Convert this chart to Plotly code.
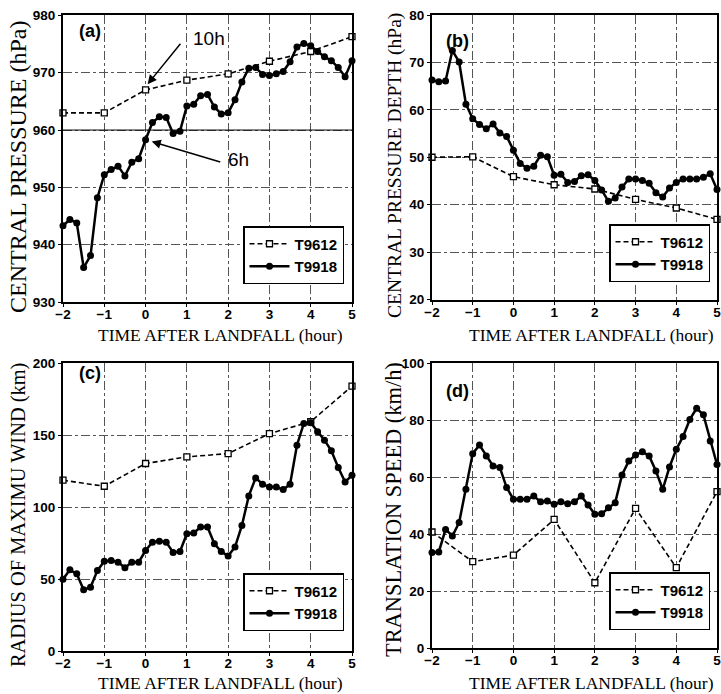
import plotly.graph_objects as go

# ---------------- data ----------------
minutes = list(range(-120, 301, 10))          # 10-minute samples of T9918
t_9918 = [m / 60 for m in minutes]
t_9612 = [-2, -1, 0, 1, 2, 3, 4, 5]            # hourly samples of T9612

a_9918 = [943.3, 944.4, 943.8, 936.0, 938.1, 948.2, 952.2, 953.1, 953.7, 952.0, 954.4,
          955.0, 958.3, 961.3, 962.3, 962.2, 959.4, 959.8, 964.2, 964.5, 966.0, 966.2,
          964.0, 962.8, 963.0, 965.3, 968.4, 970.8, 970.9, 969.7, 969.5, 969.8, 970.2,
          971.9, 974.5, 975.1, 974.7, 973.7, 972.8, 972.1, 970.9, 969.3, 972.1]
a_9612 = [963.0, 963.0, 967.0, 968.7, 969.8, 972.0, 973.7, 976.3]

b_9918 = [66.3, 65.9, 66.1, 72.5, 70.1, 61.2, 58.1, 56.9, 56.0, 57.0, 55.1, 54.4, 51.5,
          48.7, 47.7, 48.1, 50.4, 50.1, 46.2, 46.4, 44.7, 44.9, 46.1, 46.3, 45.1, 43.1,
          40.7, 41.4, 43.7, 45.4, 45.4, 45.1, 44.5, 42.5, 41.6, 43.5, 44.7, 45.4, 45.4,
          45.4, 45.8, 46.5, 43.2]
b_9612 = [50.0, 50.1, 45.9, 44.2, 43.3, 41.1, 39.3, 36.9]

c_9918 = [49.9, 56.4, 53.6, 42.5, 44.3, 55.9, 62.4, 62.9, 61.7, 57.8, 61.7, 61.7, 69.8,
          75.6, 76.3, 75.6, 68.4, 69.1, 81.4, 81.9, 86.1, 86.1, 74.5, 69.1, 65.9, 72.2,
          87.2, 107.7, 120.2, 115.8, 113.9, 113.9, 112.1, 115.8, 142.9, 158.0, 158.5,
          152.2, 146.4, 139.0, 127.4, 117.4, 122.0]
c_9612 = [118.6, 114.4, 130.2, 134.8, 137.1, 151.0, 159.2, 184.0]

d_9918 = [33.5, 33.7, 41.6, 39.3, 44.0, 55.7, 68.2, 71.2, 67.4, 63.9, 63.3, 56.3, 52.2,
          52.2, 52.2, 53.3, 51.3, 51.6, 50.4, 51.3, 50.6, 51.3, 53.3, 50.2, 46.9, 47.1,
          49.2, 51.0, 60.7, 65.6, 67.7, 68.9, 67.4, 62.1, 55.7, 63.5, 69.7, 74.2, 80.2,
          84.1, 81.8, 72.6, 64.4]
d_9612 = [40.7, 30.3, 32.6, 45.1, 22.9, 49.0, 28.2, 54.9]

panel_labels = ["(a)", "(b)", "(c)", "(d)"]
y_titles = ["CENTRAL PRESSURE (hPa)", "CENTRAL PRESSURE DEPTH (hPa)",
            "RADIUS OF MAXIMU WIND (km)", "TRANSLATION SPEED (km/h)"]
x_title = "TIME AFTER LANDFALL (hour)"
x_ticks = [-2, -1, 0, 1, 2, 3, 4, 5]
y_ranges = [(930, 980), (20, 80), (0, 200), (0, 100)]
y_dticks = [10, 10, 50, 20]
series_names = ["T9612", "T9918"]
ref_line_a = 960

# ---------------- layout helpers ----------------
W, H = 721, 694
def px(x): return x / W
def py(y): return 1 - y / H

# plot-area pixel boxes (left, right, top, bottom)
boxes = [(63, 352, 15.4, 302), (432, 717, 15, 299.5),
         (63, 352, 363, 651), (432, 717, 363, 648)]
legend_pos = [(243, 226), (609, 224), (243, 573), (609, 572)]
label_pos = [(90, 31), (457, 41), (90, 373), (457, 391)]
ytitle_pos = [(18, 167, 24), (395, 166, 19.5), (18, 515, 20.4), (393, 510, 22.4)]
xtitle_pos = [(221, 335), (591, 335), (221, 683), (591, 683)]

tick_font = dict(family="Liberation Sans, Arial", size=13.5, color="black", weight="bold")
serif = "Liberation Serif, Times New Roman, DejaVu Serif"

fig = go.Figure()
data = [(a_9612, a_9918), (b_9612, b_9918), (c_9612, c_9918), (d_9612, d_9918)]

for i, (s12, s18) in enumerate(data):
    sfx = "" if i == 0 else str(i + 1)
    leg = "legend" + sfx
    fig.add_trace(go.Scatter(
        x=t_9612, y=s12, name=series_names[0], mode="lines+markers",
        line=dict(color="black", width=1.6, dash="5px,3px"),
        marker=dict(symbol="square", size=6, color="white",
                    line=dict(color="black", width=1.3)),
        xaxis="x" + sfx, yaxis="y" + sfx, legend=leg, cliponaxis=False))
    fig.add_trace(go.Scatter(
        x=t_9918, y=s18, name=series_names[1], mode="lines+markers",
        line=dict(color="black", width=2.5),
        marker=dict(symbol="circle", size=7, color="black"),
        xaxis="x" + sfx, yaxis="y" + sfx, legend=leg, cliponaxis=False))

    l, r, t, b = boxes[i]
    axis_common = dict(showline=True, linecolor="black", linewidth=2, mirror=True,
                       showgrid=True, gridcolor="#555555", griddash="dashdot",
                       gridwidth=0.7, zeroline=False, ticks="outside", ticklen=3,
                       tickcolor="black", tickfont=tick_font, automargin=False,
                       ticklabeloverflow="allow")
    fig.update_layout(**{
        "xaxis" + sfx: dict(domain=[px(l), px(r)], range=[-2, 5], tickvals=x_ticks,
                            anchor="y" + sfx, ticklabelstandoff=-4, **axis_common),
        "yaxis" + sfx: dict(domain=[py(b), py(t)], range=list(y_ranges[i]),
                            dtick=y_dticks[i], anchor="x" + sfx, **axis_common),
        leg: dict(x=px(legend_pos[i][0]), y=py(legend_pos[i][1]), xanchor="left",
                  yanchor="top", bgcolor="white", bordercolor="black", borderwidth=1.5,
                  font=dict(family="Liberation Sans, Arial", size=15, color="black",
                            weight="bold"),
                  tracegroupgap=0, itemwidth=40),
    })

    fig.add_annotation(x=px(label_pos[i][0]), y=py(label_pos[i][1]), xref="paper",
                       yref="paper", xanchor="center", yanchor="middle",
                       text=panel_labels[i], showarrow=False,
                       font=dict(family="Liberation Sans, Arial", size=18,
                                 color="black", weight="bold"))
    fig.add_annotation(x=px(ytitle_pos[i][0]), y=py(ytitle_pos[i][1]), xref="paper",
                       yref="paper", xanchor="center", yanchor="middle",
                       text=y_titles[i], textangle=-90, showarrow=False,
                       font=dict(family=serif, size=ytitle_pos[i][2], color="black"))
    fig.add_annotation(x=px(xtitle_pos[i][0]), y=py(xtitle_pos[i][1]), xref="paper",
                       yref="paper", xanchor="center", yanchor="middle",
                       text=x_title, showarrow=False,
                       font=dict(family=serif, size=17.5, color="black"))

# solid reference line at 960 hPa in panel (a)
fig.add_shape(type="line", xref="x", yref="y", x0=-2, x1=5, y0=ref_line_a, y1=ref_line_a,
              line=dict(color="black", width=1))

# arrows and labels in panel (a)
fig.add_annotation(x=0.05, y=968.0, xref="x", yref="y", text="", showarrow=True,
                   ax=34, ay=-42, arrowhead=2, arrowsize=1.2, arrowwidth=1.5,
                   arrowcolor="black")
fig.add_annotation(x=0.15, y=958.0, xref="x", yref="y", text="", showarrow=True,
                   ax=70, ay=21, arrowhead=2, arrowsize=1.2, arrowwidth=1.5,
                   arrowcolor="black")
fig.add_annotation(x=1.535, y=975.9, xref="x", yref="y", text="10h", showarrow=False,
                   xanchor="center", yanchor="middle",
                   font=dict(family="Liberation Sans, Arial", size=19, color="black"))
fig.add_annotation(x=2.24, y=954.8, xref="x", yref="y", text="6h", showarrow=False,
                   xanchor="center", yanchor="middle",
                   font=dict(family="Liberation Sans, Arial", size=19, color="black"))

fig.update_layout(width=W, height=H, margin=dict(l=0, r=0, t=0, b=0),
                  paper_bgcolor="white", plot_bgcolor="white", showlegend=True)

fig.write_html("out.html", config={"displayModeBar": False},
               post_script="document.body.style.margin='0px';"
                           "document.body.style.overflow='hidden';")
